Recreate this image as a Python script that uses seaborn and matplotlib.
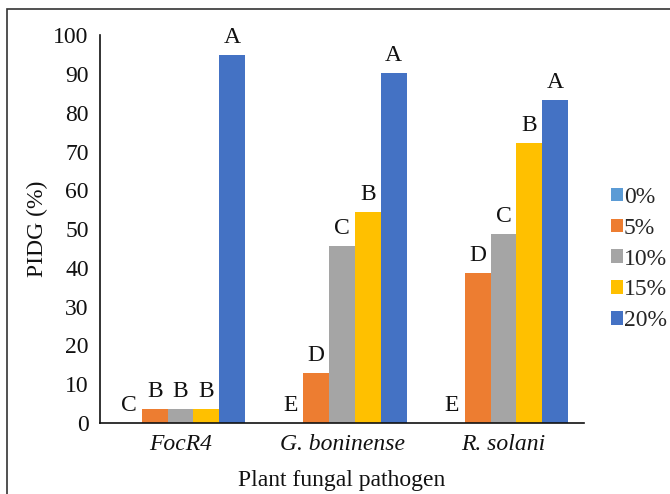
import pandas as pd
import matplotlib.pyplot as plt
import seaborn as sns
from matplotlib.patches import Rectangle

# dados
pathogens = ["FocR4", "G. boninense", "R. solani"]
concentrations = ["0%", "5%", "10%", "15%", "20%"]
pidg_0 = [0, 0, 0]
pidg_5 = [3.7, 12.8, 38.6]
pidg_10 = [3.7, 45.6, 48.7]
pidg_15 = [3.7, 54.4, 72.2]
pidg_20 = [94.8, 90.2, 83.4]
letters_0 = ["C", "E", "E"]
letters_5 = ["B", "D", "D"]
letters_10 = ["B", "C", "C"]
letters_15 = ["B", "B", "B"]
letters_20 = ["A", "A", "A"]
palette = ["#5B9BD5", "#ED7D31", "#A5A5A5", "#FFC000", "#4472C4"]

valores = [pidg_0, pidg_5, pidg_10, pidg_15, pidg_20]
letras = [letters_0, letters_5, letters_10, letters_15, letters_20]

linhas = []
for conc, vals in zip(concentrations, valores):
    for pat, v in zip(pathogens, vals):
        linhas.append({"pathogen": pat, "conc": conc, "pidg": v})
df = pd.DataFrame(linhas)

sns.set_theme(style="white")
plt.rcParams['font.family'] = ['Liberation Serif', 'DejaVu Serif']
FS = 17

fig = plt.figure(figsize=(6.7, 4.94), dpi=100)
ax = fig.add_axes([0.149, 0.1437, 0.723, 0.785])

sns.barplot(data=df, x="pathogen", y="pidg", hue="conc", order=pathogens,
            hue_order=concentrations, palette=palette, width=0.8,
            saturation=1, linewidth=0, ax=ax)

# letras de significancia
for cont, lts in zip(ax.containers, letras):
    for bar, lt in zip(cont, lts):
        ax.annotate(lt, (bar.get_x() + bar.get_width() / 2, bar.get_height()),
                    xytext=(0, 5), textcoords="offset points",
                    ha="center", va="bottom", fontsize=FS, color="#111111")

ax.set_ylim(0, 100)
ax.set_yticks(range(0, 101, 10))
ax.tick_params(axis="both", length=0, labelsize=FS, colors="#111111")
ax.tick_params(axis="x", pad=8)
ax.tick_params(axis="y", pad=8)
for lbl in ax.get_xticklabels():
    lbl.set_fontstyle("italic")
ax.set_xlabel("Plant fungal pathogen", fontsize=FS, color="#111111", labelpad=11)
ax.set_ylabel("PIDG (%)", fontsize=FS, color="#111111", labelpad=4)
sns.despine(ax=ax)
for s in ["left", "bottom"]:
    ax.spines[s].set_color("#111111")
    ax.spines[s].set_linewidth(1.2)

handles, labels = ax.get_legend_handles_labels()
ax.get_legend().remove()
fig.legend(handles, labels, loc="upper left", bbox_to_anchor=(0.912, 0.622),
           frameon=False, fontsize=FS, handlelength=0.5, handleheight=0.5,
           handletextpad=0.05, labelspacing=0.42, borderaxespad=0, borderpad=0)

# moldura da figura
fig.patches.append(Rectangle((0.0104, -0.1), 2, 1.082, transform=fig.transFigure,
                             fill=False, edgecolor="#333333", lw=1.2, clip_on=False))

fig.savefig("out.png", dpi=100)
